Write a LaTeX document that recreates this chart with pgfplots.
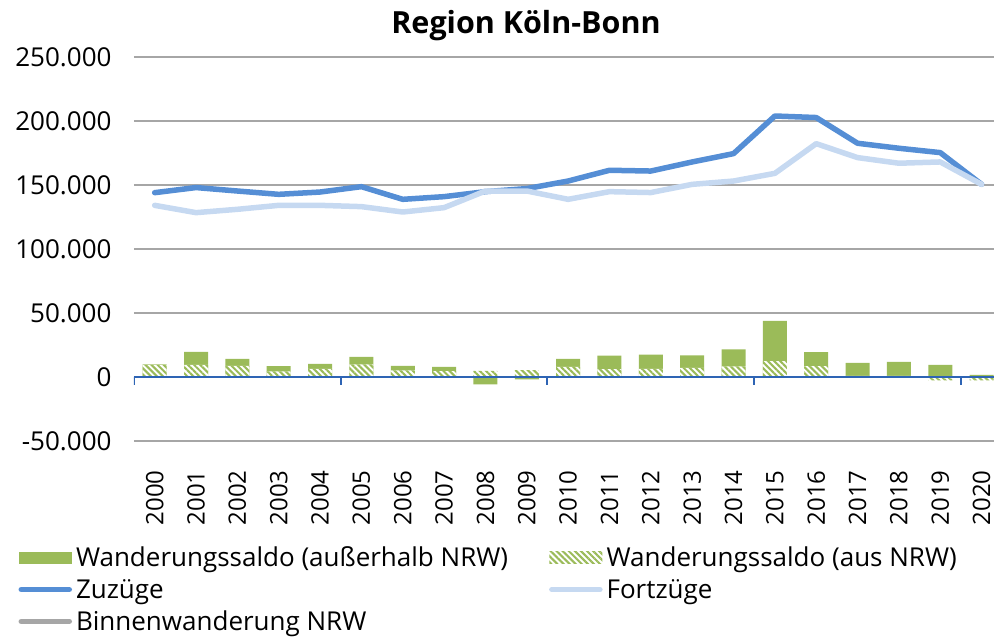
\documentclass[border=0pt]{standalone}
\usepackage{fontspec}
\setmainfont{Open Sans}
\usepackage{pgfplots}
\pgfplotsset{compat=1.18}
\usepackage{pgfplotstable}
\usetikzlibrary{patterns.meta}

\definecolor{grn}{HTML}{9BBB59}
\definecolor{zuz}{HTML}{558ED5}
\definecolor{fort}{HTML}{C6D9F1}
\definecolor{binn}{HTML}{A6A6A6}
\definecolor{gridc}{HTML}{A6A6A6}
\definecolor{axblue}{HTML}{2E64B4}

\pgfplotsset{
  linelegend/.style={legend image code/.code={\draw[##1] (2.5pt,0pt) -- (50.5pt,0pt);}},
  barlegend/.style={legend image code/.code={\path[##1] (0pt,-6pt) rectangle (53pt,6pt);}},
}

% i, year, aus NRW (hatched), ausserhalb NRW (solid), top of solid bar, Zuzuege, Fortzuege
\pgfplotstableread{
i year aus ausser stacktop zu fort
0 2000 9500 300 9800 144000 134100
1 2001 9500 10200 19700 148000 128400
2 2002 8700 5500 14200 145300 131000
3 2003 4300 4200 8500 142700 134100
4 2004 6400 3900 10300 144500 134100
5 2005 9800 6000 15800 148700 133100
6 2006 5100 3600 8700 138800 128900
7 2007 4600 3400 8000 140900 132300
8 2008 4800 -5700 -5700 144800 145300
9 2009 5400 -1800 -1800 147200 145300
10 2010 8000 6200 14200 153100 138800
11 2011 6200 10400 16600 161500 144800
12 2012 6400 11000 17400 160900 144100
13 2013 7200 9600 16800 168000 150500
14 2014 8200 13300 21500 174500 153100
15 2015 12400 31500 43900 203900 159100
16 2016 8500 10900 19400 202700 182300
17 2017 900 10200 11100 182600 171400
18 2018 900 11000 11900 178700 167000
19 2019 -2600 9500 9500 175300 168000
20 2020 -2600 1700 1700 150500 150500
}\data

\begin{document}
\begin{tikzpicture}
\begin{axis}[
  at={(134pt,198pt)}, anchor=south west,
  scale only axis, width=860pt, height=384pt,
  xmin=-0.5, xmax=20.3, ymin=-50000, ymax=250000,
  ytick={-50000,0,50000,100000,150000,200000,250000},
  yticklabels={-50.000,0,50.000,100.000,150.000,200.000,250.000},
  xtick={0,...,20},
  xticklabels={2000,2001,2002,2003,2004,2005,2006,2007,2008,2009,2010,2011,2012,2013,2014,2015,2016,2017,2018,2019,2020},
  axis line style={draw=none},
  major tick length=0pt,
  ymajorgrids, grid style={draw=gridc, line width=1.5pt},
  scaled y ticks=false,
  tick label style={text=black},
  yticklabel style={font=\fontsize{26}{30}\selectfont},
  xticklabel style={font=\fontsize{24}{29}\selectfont, rotate=90, anchor=east},
  xticklabel shift=26pt, yticklabel shift=19pt,
  legend columns=2,
  legend cell align=left,
  legend style={at={(-0.138,-0.265)}, anchor=north west, draw=none, fill=none,
    font=\fontsize{26}{30}\selectfont,
    /tikz/every even column/.append style={column sep=37pt},
    row sep=7pt, nodes={inner xsep=4pt}},
]
\addplot[ybar, bar width=24pt, bar shift=0pt, fill=grn, draw=none, barlegend]
  table[x=i, y=stacktop] {\data};
\addlegendentry{Wanderungssaldo (außerhalb NRW)}
\addplot[ybar, bar width=24pt, bar shift=0pt, draw=none, fill=white,
  postaction={pattern={Lines[angle=-45, distance=4.3pt, line width=2.1pt]}, pattern color=grn},
  barlegend]
  table[x=i, y=aus] {\data};
\addlegendentry{Wanderungssaldo (aus NRW)}
\addplot[axblue, line width=2pt, forget plot] coordinates {(-0.5,0) (20.3,0)};
\draw[axblue, line width=2pt] (axis cs:-0.5,0) -- ++(0pt,-8pt);
\draw[axblue, line width=2pt] (axis cs:4.5,0) -- ++(0pt,-8pt);
\draw[axblue, line width=2pt] (axis cs:9.5,0) -- ++(0pt,-8pt);
\draw[axblue, line width=2pt] (axis cs:14.5,0) -- ++(0pt,-8pt);
\draw[axblue, line width=2pt] (axis cs:19.5,0) -- ++(0pt,-8pt);
\addplot[zuz, line width=5.5pt, line join=round, line cap=round, no marks, linelegend]
  table[x=i, y=zu] {\data};
\addlegendentry{Zuzüge}
\addplot[fort, line width=5.5pt, line join=round, line cap=round, no marks, linelegend]
  table[x=i, y=fort] {\data};
\addlegendentry{Fortzüge}
\addlegendimage{binn, line width=5.5pt, line cap=round, linelegend}
\addlegendentry{Binnenwanderung NRW}
\end{axis}
\node[font=\bfseries\fontsize{30.5}{36}\selectfont] at (526pt,613pt) {Region Köln-Bonn};
\pgfresetboundingbox
\path[use as bounding box] (0pt,0pt) rectangle (994pt,639pt);
\end{tikzpicture}
\end{document}
